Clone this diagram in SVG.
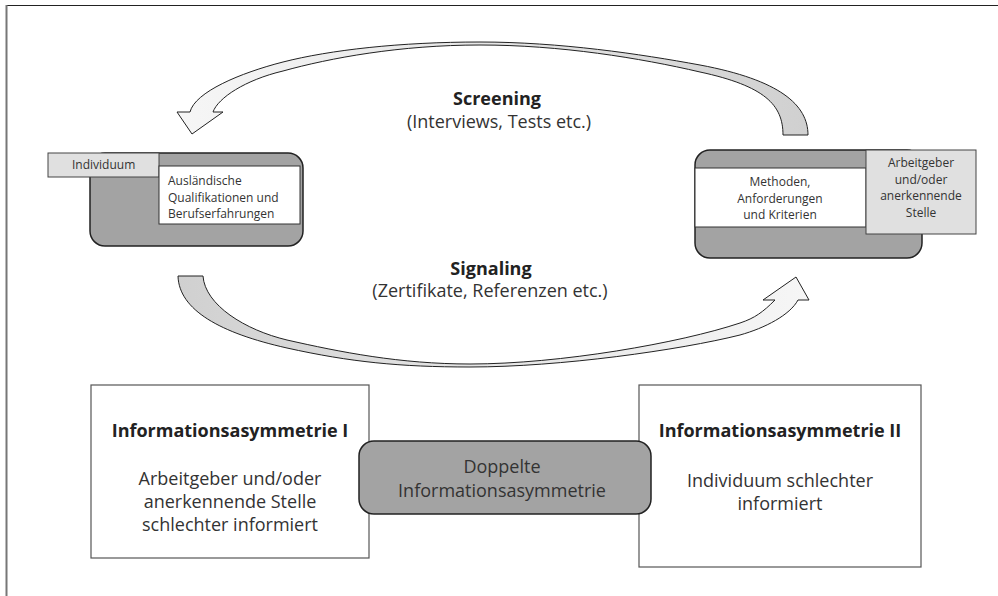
<svg xmlns="http://www.w3.org/2000/svg" width="998" height="596" viewBox="0 0 998 596">
  <style>
    .t { font-family: "Open Sans", "Liberation Sans", sans-serif; fill: #333; text-anchor: middle; }
    .big { font-size: 18px; }
    .bold { font-weight: bold; fill: #222; }
    .small { font-size: 12px; }
    .start { text-anchor: start; }
    .core { fill: #a3a3a3; stroke: #222; stroke-width: 1.5; }
    .card { fill: #fff; stroke: #333; stroke-width: 1; }
    .tab { fill: #e0e0e0; stroke: #444; stroke-width: 1; }
    .panel { fill: #fff; stroke: #555; stroke-width: 1.2; }
    .ribbon { stroke: #222; stroke-width: 1; stroke-linejoin: miter; }
  </style>
  <defs>
    <linearGradient id="fadeLeft" x1="1" y1="0" x2="0" y2="0">
      <stop offset="0" stop-color="#d0d0d0"/>
      <stop offset="0.45" stop-color="#e4e4e4"/>
      <stop offset="1" stop-color="#f6f6f6"/>
    </linearGradient>
    <linearGradient id="fadeRight" x1="0" y1="0" x2="1" y2="0">
      <stop offset="0" stop-color="#d0d0d0"/>
      <stop offset="0.45" stop-color="#e4e4e4"/>
      <stop offset="1" stop-color="#f6f6f6"/>
    </linearGradient>
  </defs>

  <rect width="998" height="596" fill="#fff"/>
  <!-- outer frame (top and left edges visible) -->
  <line x1="6" y1="5.5" x2="998" y2="5.5" stroke="#222" stroke-width="1.2"/>
  <line x1="6.5" y1="5" x2="6.5" y2="596" stroke="#777" stroke-width="2"/>

  <!-- curved ribbon arrows -->
  <g id="connectors">
    <g id="screening">
      <path class="ribbon" fill="url(#fadeLeft)" d="M808,135 C808,105 780,80 700,65 C640,54 560,42 480,42 C400,42 330,50 283,62 C240,73 195,92 190,112 L177,112 L192,134 L223,112 L213,112 C218,98 245,80 283,71 C330,58 400,45 480,45 C560,45 640,58 700,72 C765,86 783,105 783,135 Z"/>
      <text class="t big bold" x="497" y="105">Screening</text>
      <text class="t big" x="499" y="128">(Interviews, Tests etc.)</text>
    </g>
    <g id="signaling">
      <path class="ribbon" fill="url(#fadeRight)" d="M178,276 C179,310 220,333 287,348 C350,362 400,367 470,367 C560,367 680,350 740,335 C765,328 790,315 798,300 L809,300 L796,277 L763,300 L775,300 C763,312 755,318 740,323 C680,343 560,364 470,364 C400,364 340,352 287,340 C245,330 205,305 203,276 Z"/>
      <text class="t big bold" x="491" y="275">Signaling</text>
      <text class="t big" x="490" y="297">(Zertifikate, Referenzen etc.)</text>
    </g>
  </g>

  <!-- left node: individual -->
  <g id="individuum">
    <rect class="core" x="90" y="153" width="213" height="93" rx="15"/>
    <rect class="tab" x="48" y="153" width="111" height="24"/>
    <text class="t small start" x="72" y="169">Individuum</text>
    <rect class="card" x="159" y="166" width="141" height="58"/>
    <text class="t small start" x="168" y="185">Ausländische</text>
    <text class="t small start" x="168" y="201.5">Qualifikationen und</text>
    <text class="t small start" x="168" y="218">Berufserfahrungen</text>
  </g>

  <!-- right node: employer / recognising body -->
  <g id="arbeitgeber">
    <rect class="core" x="695" y="150" width="227" height="108" rx="15"/>
    <rect class="card" x="695" y="168" width="171" height="59"/>
    <text class="t small" x="780" y="186">Methoden,</text>
    <text class="t small" x="780" y="202.5">Anforderungen</text>
    <text class="t small" x="780" y="219">und Kriterien</text>
    <rect class="tab" x="866" y="150" width="110" height="84"/>
    <text class="t small" x="921" y="167">Arbeitgeber</text>
    <text class="t small" x="921" y="183.5">und/oder</text>
    <text class="t small" x="921" y="200">anerkennende</text>
    <text class="t small" x="921" y="216.5">Stelle</text>
  </g>

  <!-- information asymmetry I -->
  <g id="asymmetrie-1">
    <rect class="panel" x="91" y="385" width="278" height="173"/>
    <text class="t big bold" x="230" y="437">Informationsasymmetrie I</text>
    <text class="t big" x="230" y="485">Arbeitgeber und/oder</text>
    <text class="t big" x="230" y="508">anerkennende Stelle</text>
    <text class="t big" x="230" y="531">schlechter informiert</text>
  </g>

  <!-- information asymmetry II -->
  <g id="asymmetrie-2">
    <rect class="panel" x="639" y="385" width="282" height="182"/>
    <text class="t big bold" x="780" y="437">Informationsasymmetrie II</text>
    <text class="t big" x="780" y="487">Individuum schlechter</text>
    <text class="t big" x="780" y="510">informiert</text>
  </g>

  <!-- double asymmetry, overlapping both panels -->
  <g id="doppelte">
    <rect class="core" x="359" y="441" width="292" height="73" rx="15"/>
    <text class="t big" x="502" y="473">Doppelte</text>
    <text class="t big" x="502" y="497">Informationsasymmetrie</text>
  </g>
</svg>
